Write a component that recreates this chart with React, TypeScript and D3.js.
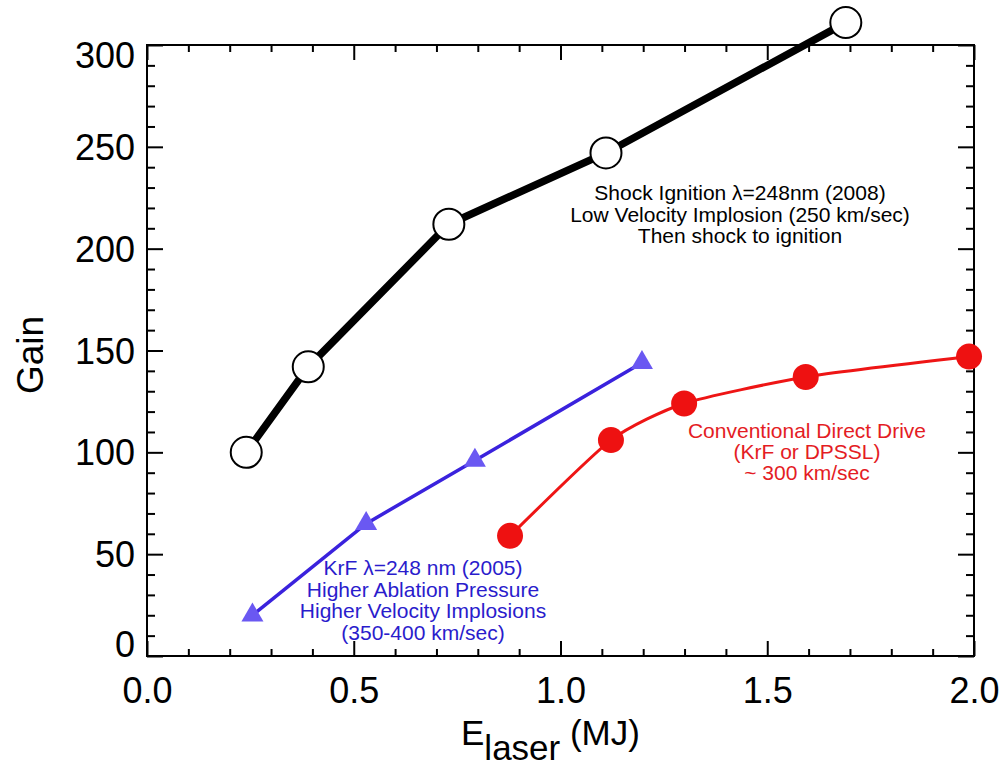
import React, { useEffect, useRef } from "react";
import * as d3 from "d3";

const shockX = [0.24, 0.39, 0.73, 1.11, 1.69];
const shockY = [100, 142, 212, 247, 311];

const krfX = [0.255, 0.53, 0.793, 1.197];
const krfY = [20, 65, 96, 144];

const convX = [0.878, 1.122, 1.299, 1.593, 1.988];
const convY = [59, 106, 124, 137, 147];

const xMajorTicks = [0, 0.5, 1.0, 1.5, 2.0];
const yMajorTicks = [0, 50, 100, 150, 200, 250, 300];

const shockLabel = [
  "Shock Ignition \u03bb=248nm (2008)",
  "Low Velocity Implosion (250 km/sec)",
  "Then shock to ignition",
];
const krfLabel = [
  "KrF \u03bb=248 nm (2005)",
  "Higher Ablation Pressure",
  "Higher Velocity Implosions",
  "(350-400 km/sec)",
];
const convLabel = [
  "Conventional Direct Drive",
  "(KrF or DPSSL)",
  "~ 300 km/sec",
];

const W = 1004;
const H = 766;
const M = { left: 147, right: 974, top: 45, bottom: 656 };
const FONT = "'Liberation Sans', Arial, Helvetica, sans-serif";

export default function App() {
  const ref = useRef<SVGSVGElement | null>(null);

  useEffect(() => {
    const svg = d3.select(ref.current);
    svg.selectAll("*").remove();

    const x = d3.scaleLinear().domain([0, 2]).range([M.left, M.right]);
    const y = d3.scaleLinear().domain([0, 300]).range([M.bottom, M.top]);

    const xMinor = d3.range(0, 2.0001, 0.1).filter((v) => Math.abs(v * 2 - Math.round(v * 2)) > 1e-6);
    const yMinor = d3.range(0, 300.001, 10).filter((v) => v % 50 !== 0);

    const styleAxis = (g: any) => {
      g.select(".domain").remove();
      g.selectAll("line").attr("stroke", "#000").attr("stroke-width", 2);
    };

    // Bottom axis
    const gb = svg.append("g").attr("transform", `translate(0,${M.bottom})`);
    gb.call(
      d3.axisBottom(x).tickValues(xMajorTicks).tickSize(-15).tickPadding(0).tickFormat(d3.format(".1f") as any)
    );
    styleAxis(gb);
    gb.selectAll("text")
      .attr("font-family", FONT)
      .attr("font-size", 36)
      .attr("fill", "#000")
      .attr("y", 47)
      .attr("dy", 0);
    const gbm = svg.append("g").attr("transform", `translate(0,${M.bottom})`);
    gbm.call(d3.axisBottom(x).tickValues(xMinor).tickSize(-7).tickFormat(() => ""));
    styleAxis(gbm);

    // Top axis
    const gt = svg.append("g").attr("transform", `translate(0,${M.top})`);
    gt.call(d3.axisTop(x).tickValues(xMajorTicks).tickSize(-15).tickFormat(() => ""));
    styleAxis(gt);
    const gtm = svg.append("g").attr("transform", `translate(0,${M.top})`);
    gtm.call(d3.axisTop(x).tickValues(xMinor).tickSize(-7).tickFormat(() => ""));
    styleAxis(gtm);

    // Left axis
    const gl = svg.append("g").attr("transform", `translate(${M.left},0)`);
    gl.call(d3.axisLeft(y).tickValues(yMajorTicks).tickSize(-16).tickPadding(0).tickFormat(d3.format("d") as any));
    styleAxis(gl);
    gl.selectAll("text")
      .attr("font-family", FONT)
      .attr("font-size", 36)
      .attr("fill", "#000")
      .attr("x", -12)
      .attr("dy", "0.35em");
    gl.selectAll(".tick")
      .filter((d: any) => d === 300)
      .select("text")
      .attr("dy", "0.62em");
    gl.selectAll(".tick")
      .filter((d: any) => d === 0)
      .select("text")
      .attr("dy", "0.02em");
    const glm = svg.append("g").attr("transform", `translate(${M.left},0)`);
    glm.call(d3.axisLeft(y).tickValues(yMinor).tickSize(-8).tickFormat(() => ""));
    styleAxis(glm);

    // Right axis
    const gr = svg.append("g").attr("transform", `translate(${M.right},0)`);
    gr.call(d3.axisRight(y).tickValues(yMajorTicks).tickSize(-16).tickFormat(() => ""));
    styleAxis(gr);
    const grm = svg.append("g").attr("transform", `translate(${M.right},0)`);
    grm.call(d3.axisRight(y).tickValues(yMinor).tickSize(-8).tickFormat(() => ""));
    styleAxis(grm);

    // Frame
    svg
      .append("rect")
      .attr("x", M.left)
      .attr("y", M.top)
      .attr("width", M.right - M.left)
      .attr("height", M.bottom - M.top)
      .attr("fill", "none")
      .attr("stroke", "#000")
      .attr("stroke-width", 2);

    // Conventional direct drive (red)
    const conv = convX.map((v, i) => [v, convY[i]] as [number, number]);
    const lineCurve = d3
      .line<[number, number]>()
      .x((d) => x(d[0]))
      .y((d) => y(d[1]))
      .curve(d3.curveCardinal.tension(0.4));
    svg
      .append("path")
      .attr("d", lineCurve(conv))
      .attr("fill", "none")
      .attr("stroke", "#ee1515")
      .attr("stroke-width", 3);
    svg
      .selectAll(".convPt")
      .data(conv)
      .enter()
      .append("circle")
      .attr("cx", (d) => x(d[0]))
      .attr("cy", (d) => y(d[1]))
      .attr("r", 13)
      .attr("fill", "#ee1111");

    // KrF (blue)
    const krf = krfX.map((v, i) => [v, krfY[i]] as [number, number]);
    const lineStraight = d3
      .line<[number, number]>()
      .x((d) => x(d[0]))
      .y((d) => y(d[1]));
    svg
      .append("path")
      .attr("d", lineStraight(krf))
      .attr("fill", "none")
      .attr("stroke", "#3a22dd")
      .attr("stroke-width", 3.5);
    const tri = d3.symbol().type(d3.symbolTriangle).size(210);
    svg
      .selectAll(".krfPt")
      .data(krf)
      .enter()
      .append("path")
      .attr("d", tri() as string)
      .attr("transform", (d) => `translate(${x(d[0])},${y(d[1])})`)
      .attr("fill", "#6a58f2");

    // Shock ignition (black)
    const shock = shockX.map((v, i) => [v, shockY[i]] as [number, number]);
    svg
      .append("path")
      .attr("d", lineStraight(shock))
      .attr("fill", "none")
      .attr("stroke", "#000")
      .attr("stroke-width", 7.5);
    svg
      .selectAll(".shockPt")
      .data(shock)
      .enter()
      .append("circle")
      .attr("cx", (d) => x(d[0]))
      .attr("cy", (d) => y(d[1]))
      .attr("r", 15.5)
      .attr("fill", "#fff")
      .attr("stroke", "#000")
      .attr("stroke-width", 2);

    // Annotations
    const addLabel = (lines: string[], cx: number, y0: number, dy: number, color: string) => {
      const t = svg
        .append("text")
        .attr("font-family", FONT)
        .attr("font-size", 21)
        .attr("fill", color)
        .attr("text-anchor", "middle");
      lines.forEach((l, i) => {
        t.append("tspan").attr("x", cx).attr("y", y0 + i * dy).text(l);
      });
    };
    addLabel(shockLabel, 740, 200, 21.5, "#000");
    addLabel(krfLabel, 423, 575, 21.7, "#2a1ccc");
    addLabel(convLabel, 807, 438, 21, "#e41c24");

    // Axis titles
    svg
      .append("text")
      .attr("transform", "translate(43,355) rotate(-90)")
      .attr("text-anchor", "middle")
      .attr("font-family", FONT)
      .attr("font-size", 37)
      .attr("fill", "#000")
      .text("Gain");

    const xt = svg
      .append("text")
      .attr("x", 461)
      .attr("y", 745)
      .attr("font-family", FONT)
      .attr("font-size", 35)
      .attr("fill", "#000");
    xt.append("tspan").text("E");
    xt.append("tspan").attr("dy", 15).text("laser");
    xt.append("tspan").attr("dy", -15).text(" (MJ)");
  }, []);

  return (
    <svg
      ref={ref}
      width={W}
      height={H}
      style={{ position: "absolute", left: 0, top: 0, background: "#fff" }}
    />
  );
}
